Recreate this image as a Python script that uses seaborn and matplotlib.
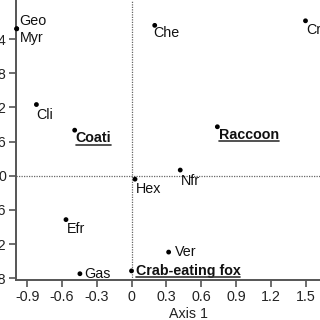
import matplotlib
matplotlib.use("Agg")
import matplotlib.pyplot as plt
import seaborn as sns
import pandas as pd
from matplotlib.lines import Line2D

labels = ["Geo", "Myr", "Che", "Cri", "Cli", "Coati", "Raccoon", "Nfr", "Hex",
          "Efr", "Ver", "Gas", "Crab-eating fox"]
axis1 = [-0.99, -0.99, 0.20, 1.50, -0.82, -0.49, 0.74, 0.42, 0.03,
         -0.565, 0.32, -0.445, 0.0]
axis2 = [2.58, 2.58, 2.64, 2.72, 1.25, 0.80, 0.86, 0.10, -0.06,
         -0.77, -1.34, -1.72, -1.67]
highlight = ["Coati", "Raccoon", "Crab-eating fox"]
xticks = [-0.9, -0.6, -0.3, 0, 0.3, 0.6, 0.9, 1.2, 1.5]
xtick_labels = ["-0.9", "-0.6", "-0.3", "0", "0.3", "0.6", "0.9", "1.2", "1.5"]
yticks = [-1.8, -1.2, -0.6, 0, 0.6, 1.2, 1.8, 2.4]
ytick_labels = ["-1.8", "-1.2", "-0.6", "0", "0.6", "1.2", "1.8", "2.4"]

# label offsets in pixels (dx, dy)
offsets = {"Geo": (3, 8), "Myr": (3, -9), "Che": (-1, -8), "Cri": (1, -9),
           "Cli": (0, -10), "Coati": (1, -8), "Raccoon": (2, -8),
           "Nfr": (1, -11), "Hex": (1, -9.5), "Efr": (1, -9),
           "Ver": (6, 0), "Gas": (4, 0), "Crab-eating fox": (4, 0)}

df = pd.DataFrame({"label": labels, "x": axis1, "y": axis2})

sns.set_style("ticks")
plt.rcParams["font.family"] = ["Liberation Sans", "DejaVu Sans"]

fig = plt.figure(figsize=(3.2, 3.2), dpi=100)
ax = fig.add_axes([16 / 320, 40 / 320, 1 - 16 / 320, 1 - 40 / 320])

spine_col = "#555555"
ax.axhline(0, ls=(0, (1, 1)), color="#666666", lw=0.9, zorder=1)
ax.axvline(0, ls=(0, (1, 1)), color="#666666", lw=0.9, zorder=1)

sns.scatterplot(data=df, x="x", y="y", ax=ax, color="black", s=12,
                edgecolor="none", zorder=3, clip_on=False)

ax.set_xlim(-0.996, 1.625)
ax.set_ylim(-1.83, 3.085)
ax.set_xticks(xticks)
ax.set_xticklabels(xtick_labels)
ax.set_yticks(yticks)
ax.set_yticklabels(ytick_labels)
for s in ["top", "right"]:
    ax.spines[s].set_visible(False)
for s in ["left", "bottom"]:
    ax.spines[s].set_color(spine_col)
    ax.spines[s].set_linewidth(1.4)
ax.tick_params(axis="both", colors=spine_col, labelcolor="#222222",
               labelsize=10.3, length=5, width=1.2, pad=2)
ax.set_xlabel("Axis 1", fontsize=10.3, color="#222222")
ax.set_ylabel("")
ax.xaxis.set_label_coords(0.566, -0.096)

texts = []
for lab, x, y in zip(labels, axis1, axis2):
    dx, dy = offsets[lab]
    bold = lab in highlight
    t = ax.annotate(lab, (x, y), xytext=(dx, dy), textcoords="offset pixels",
                    ha="left", va="center", fontsize=10.3,
                    fontweight="bold" if bold else "normal",
                    color="#111111", annotation_clip=False)
    if bold:
        texts.append(t)

fig.canvas.draw()
renderer = fig.canvas.get_renderer()
for t in texts:
    bb = t.get_window_extent(renderer)
    _, _, d = renderer.get_text_width_height_descent(
        "lp", t.get_fontproperties(), ismath=False)
    yline = bb.y0 + d - 2.5
    fig.add_artist(Line2D([bb.x0 / 320, bb.x1 / 320], [yline / 320, yline / 320],
                          transform=fig.transFigure, color="#333333", lw=1.2))

fig.savefig("out.png", dpi=100)
